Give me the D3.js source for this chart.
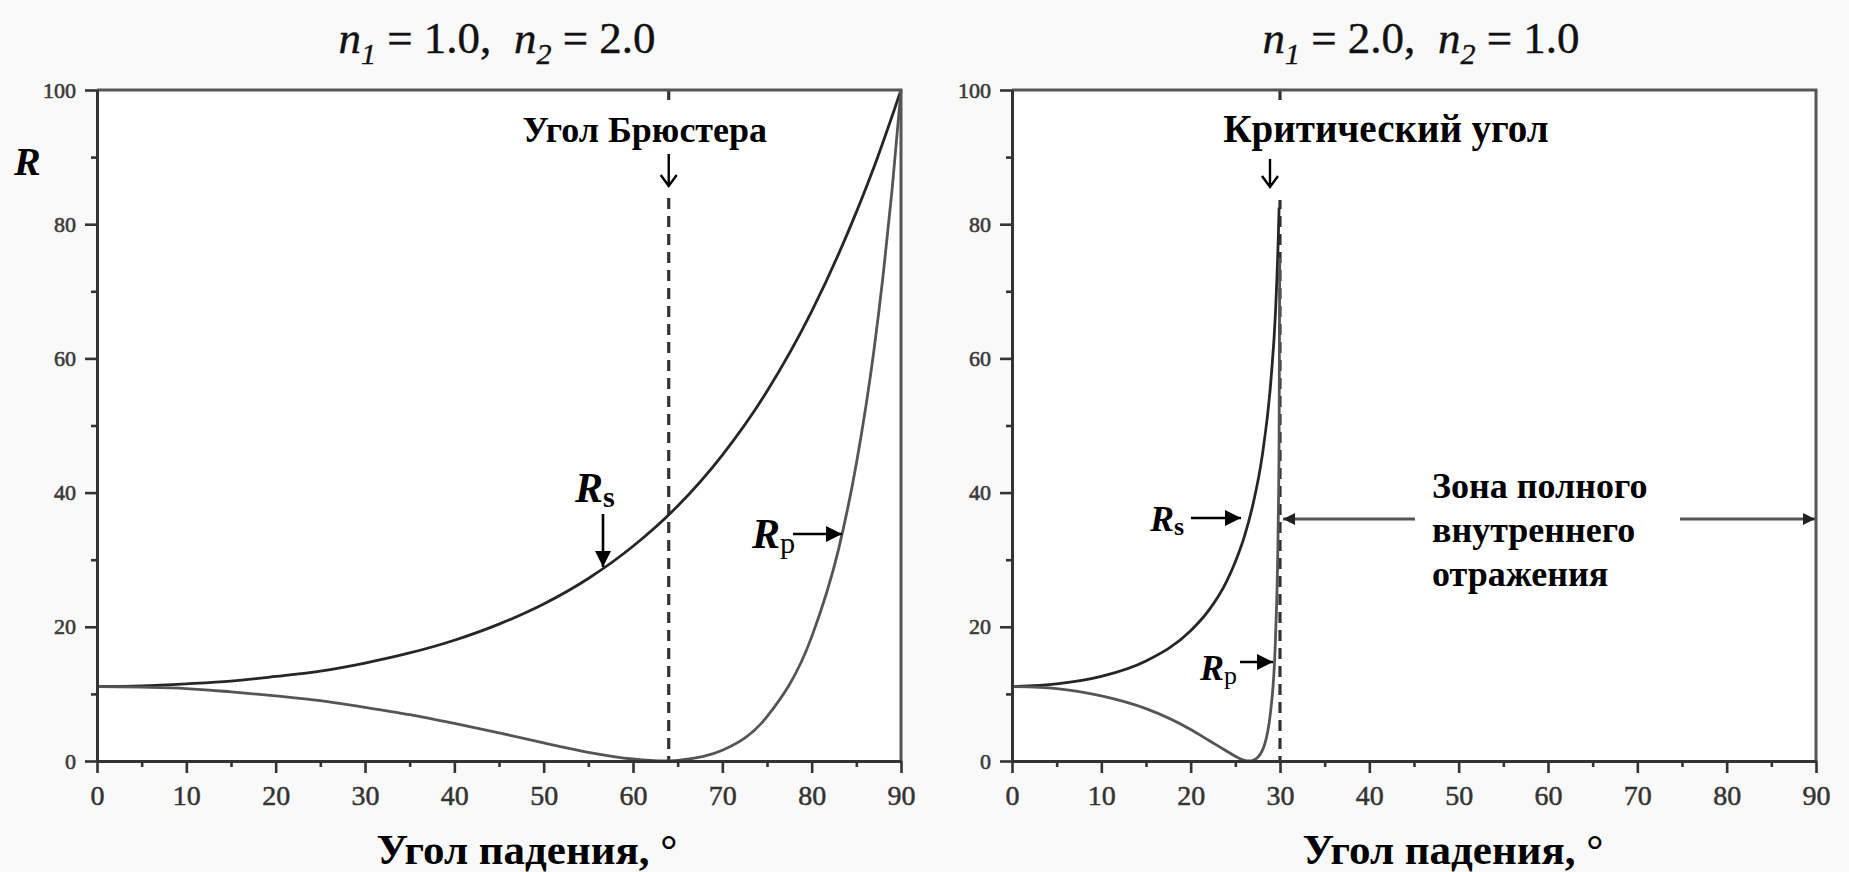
<!DOCTYPE html>
<html><head><meta charset="utf-8">
<script src="https://cdn.jsdelivr.net/npm/d3@7"></script>
<style>
html,body{margin:0;padding:0;background:#f9f9f9;}
svg{display:block;}
</style></head>
<body>
<svg id="c" width="1849" height="872"></svg>
<script>
// ---------- data (R in %) ----------
const xTickValues = [0,10,20,30,40,50,60,70,80,90];
const xMinorTicks = [5,15,25,35,45,55,65,75,85];
const yTickValues = [0,20,40,60,80,100];
const yMinorTicks = [10,30,50,70,90];

const panelTitles = [["1","1.0","2","2.0"],["1","2.0","2","1.0"]];
const xAxisTitle = "Угол падения, °";
const yAxisTitle = "R";

// n1 = 1.0, n2 = 2.0
const leftRsAngles = [0,5,10,15,20,25,30,35,40,45,50,55,60,65,70,75,80,85,87,89,90];
const leftRsValues = [11.1,11.2,11.5,11.9,12.6,13.4,14.6,16.1,18.0,20.4,23.4,27.2,32.0,38.0,45.6,55.1,67.0,81.8,88.6,96.1,100];
const leftRpAngles = [0,5,10,15,20,25,30,35,40,45,50,55,60,63.5,65,70,75,80,83,85,87,88,89,90];
const leftRpValues = [11.1,11.0,10.8,10.3,9.7,9.0,8.0,6.9,5.6,4.2,2.7,1.3,0.3,0,0.1,1.6,6.6,18.5,31.5,44.3,61.5,72.4,85.1,100];
const brewsterAngle = 64;

// n1 = 2.0, n2 = 1.0
const rightRsAngles = [0,5,10,15,20,22,24,25,26,27,28,29,29.5,29.8,29.9];
const rightRsValues = [11.1,11.5,12.6,14.9,19.4,22.4,26.7,29.7,33.4,38.4,45.4,57.0,67.0,77.6,82.5];
const rightRpAngles = [0,5,10,15,20,22,24,25,26,26.6,27,28,29,29.5,29.8,29.9,29.97];
const rightRpValues = [11.1,10.8,9.7,7.8,4.7,3.1,1.5,0.7,0.1,0,0.1,1.5,8.0,18.5,35.5,48.6,75];
const criticalAngle = 30;

// ---------- drawing ----------
const SERIF = "Liberation Serif";
const svg = d3.select("#c");
const plotTop = 90, plotBottom = 761;
const panels = [
  {x0:97, x1:901, title:panelTitles[0], titleX:497, xtitleX:527,
   series:[{a:leftRsAngles,v:leftRsValues,c:"#262626"},{a:leftRpAngles,v:leftRpValues,c:"#555"}],
   dash:brewsterAngle},
  {x0:1012, x1:1816, title:panelTitles[1], titleX:1421, xtitleX:1453,
   series:[{a:rightRsAngles,v:rightRsValues,c:"#262626"},{a:rightRpAngles,v:rightRpValues,c:"#555"}],
   dash:criticalAngle}
];

const defs = svg.append("defs");
defs.append("marker").attr("id","ah").attr("viewBox","0 0 10 10").attr("refX",10).attr("refY",5)
  .attr("markerWidth",18).attr("markerHeight",16).attr("markerUnits","userSpaceOnUse").attr("orient","auto")
  .append("path").attr("d","M0,0 L10,5 L0,10 z").attr("fill","#000");
defs.append("marker").attr("id","ahg").attr("viewBox","0 0 10 10").attr("refX",10).attr("refY",5)
  .attr("markerWidth",18).attr("markerHeight",12).attr("markerUnits","userSpaceOnUse").attr("orient","auto")
  .append("path").attr("d","M0,0 L10,5 L0,10 z").attr("fill","#222");

const scales = [];
panels.forEach((p,i)=>{
  const x = d3.scaleLinear().domain([0,90]).range([p.x0,p.x1]);
  const y = d3.scaleLinear().domain([0,100]).range([plotBottom,plotTop]);
  scales.push({x,y});
  const g = svg.append("g");
  g.append("rect").attr("x",p.x0).attr("y",plotTop).attr("width",p.x1-p.x0).attr("height",plotBottom-plotTop).attr("fill","#fff");

  g.append("line").attr("x1",x(p.dash)).attr("x2",x(p.dash)).attr("y1",plotTop).attr("y2",plotBottom)
    .attr("stroke","#333").attr("stroke-width",3.2).attr("stroke-dasharray","11,7");

  const line = d3.line().x(d=>x(d[0])).y(d=>y(d[1])).curve(d3.curveMonotoneX);
  p.series.forEach(s=>{
    g.append("path").datum(s.a.map((a,k)=>[a,s.v[k]])).attr("d",line)
      .attr("fill","none").attr("stroke",s.c).attr("stroke-width",2.8);
  });

  g.append("path").attr("d",`M${p.x0},${plotTop}H${p.x1}V${plotBottom}`).attr("fill","none")
    .attr("stroke","#555").attr("stroke-width",3);

  const fmt = d3.format("d");
  const xa = g.append("g").attr("transform",`translate(0,${plotBottom})`)
    .call(d3.axisBottom(x).tickValues(xTickValues).tickSize(12).tickSizeOuter(0).tickPadding(12).tickFormat(fmt));
  const xm = g.append("g").attr("transform",`translate(0,${plotBottom})`)
    .call(d3.axisBottom(x).tickValues(xMinorTicks).tickSize(6).tickSizeOuter(0).tickFormat(""));
  const ya = g.append("g").attr("transform",`translate(${p.x0},0)`)
    .call(d3.axisLeft(y).tickValues(yTickValues).tickSize(12).tickSizeOuter(0).tickPadding(9).tickFormat(fmt));
  const ym = g.append("g").attr("transform",`translate(${p.x0},0)`)
    .call(d3.axisLeft(y).tickValues(yMinorTicks).tickSize(6).tickSizeOuter(0).tickFormat(""));
  [xa,xm,ya,ym].forEach(a=>{
    a.select(".domain").attr("stroke","#333").attr("stroke-width",3);
    a.selectAll(".tick line").attr("stroke","#333").attr("stroke-width",2.6);
  });
  xa.selectAll(".tick text").attr("font-family",SERIF).attr("font-size",28).attr("fill","#333")
    .attr("stroke","#333").attr("stroke-width",0.5);
  ya.selectAll(".tick text").attr("font-family",SERIF).attr("font-size",22).attr("fill","#3a3a3a")
    .attr("stroke","#3a3a3a").attr("stroke-width",0.6);

  const t = svg.append("text").attr("x",p.titleX).attr("y",53).attr("text-anchor","middle")
    .attr("font-family",SERIF).attr("font-size",45).attr("fill","#111")
    .attr("stroke","#111").attr("stroke-width",0.4).style("white-space","pre");
  t.append("tspan").attr("font-style","italic").text("n");
  t.append("tspan").attr("font-style","italic").attr("font-size",30).attr("dy",11).text(p.title[0]);
  t.append("tspan").attr("dy",-11).text(" = "+p.title[1]+",  ");
  t.append("tspan").attr("font-style","italic").text("n");
  t.append("tspan").attr("font-style","italic").attr("font-size",30).attr("dy",11).text(p.title[2]);
  t.append("tspan").attr("dy",-11).text(" = "+p.title[3]);

  svg.append("text").attr("x",p.xtitleX).attr("y",864).attr("text-anchor","middle")
    .attr("font-family",SERIF).attr("font-size",43).attr("font-weight","bold").attr("fill","#000").text(xAxisTitle);
});

svg.append("text").attr("x",14).attr("y",175).attr("font-family",SERIF).attr("font-size",40).attr("font-weight","bold")
  .attr("font-style","italic").text(yAxisTitle);

function rLabel(x, y, sub, fs){
  const t = svg.append("text").attr("x",x).attr("y",y).attr("font-family",SERIF).attr("font-size",fs).attr("font-weight","bold");
  t.append("tspan").attr("font-style","italic").text("R");
  t.append("tspan").attr("font-size",fs*0.72).attr("dy",fs*0.12)
    .attr("font-weight",sub==="s"?"bold":"normal").text(sub);
}
function arrow(x1,y1,x2,y2,m,w,c){
  svg.append("line").attr("x1",x1).attr("y1",y1).attr("x2",x2).attr("y2",y2)
    .attr("stroke",c||"#000").attr("stroke-width",w||2.6).attr("marker-end",`url(#${m||"ah"})`);
}
function downGlyph(cx, y1, y2){
  svg.append("path").attr("d",`M${cx},${y1}V${y2}M${cx-8},${y2-11}L${cx},${y2}L${cx+8},${y2-11}`)
    .attr("fill","none").attr("stroke","#000").attr("stroke-width",2.4);
}

const L = scales[0], Rr = scales[1];
svg.append("rect").attr("x",505).attr("y",100).attr("width",268).attr("height",95).attr("fill","#fff");
svg.append("text").attr("x",L.x(brewsterAngle)-24).attr("y",142).attr("text-anchor","middle")
  .attr("font-family",SERIF).attr("font-size",36).attr("font-weight","bold").text("Угол Брюстера");
downGlyph(L.x(brewsterAngle), 154, 186);

svg.append("rect").attr("x",1212).attr("y",100).attr("width",352).attr("height",100).attr("fill","#fff");
svg.append("text").attr("x",1386).attr("y",142).attr("text-anchor","middle")
  .attr("font-family",SERIF).attr("font-size",39).attr("font-weight","bold").text("Критический угол");
downGlyph(Rr.x(criticalAngle)-10, 159, 187);

rLabel(575, 502, "s", 42);
arrow(603, 514, 603, 567);
rLabel(752, 548, "p", 42);
arrow(793, 534, 842, 534);

rLabel(1150, 531, "s", 36);
arrow(1191, 518, 1241, 518);
rLabel(1200, 680, "p", 36);
arrow(1240, 662, 1273, 662);

arrow(1415, 519, 1283, 519, "ahg", 3, "#555");
arrow(1680, 519, 1815, 519, "ahg", 3, "#555");
const zt = svg.append("text").attr("font-family",SERIF).attr("font-size",36).attr("font-weight","bold");
["Зона полного","внутреннего","отражения"].forEach((l,k)=>zt.append("tspan").attr("x",1432).attr("y",498+k*44).text(l));
</script>
</body></html>
